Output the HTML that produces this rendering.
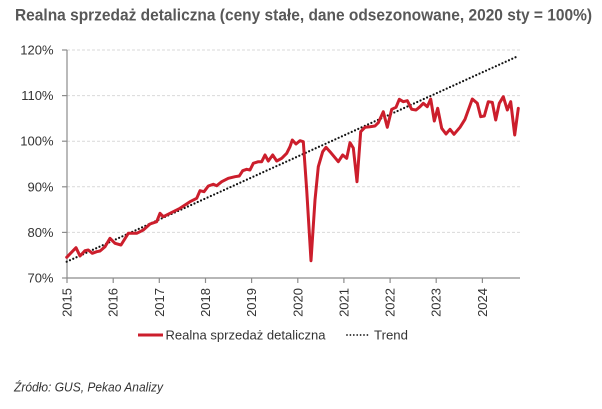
<!DOCTYPE html>
<html>
<head>
<meta charset="utf-8">
<style>
  html, body { margin: 0; padding: 0; background: #ffffff; }
  svg { display: block; }
  text { font-family: "Liberation Sans", "DejaVu Sans", sans-serif; }
</style>
</head>
<body>
<svg width="602" height="409" viewBox="0 0 602 409" xmlns="http://www.w3.org/2000/svg">
  <rect width="602" height="409" fill="#ffffff"/>
  <!-- Title -->
  <text x="15" y="20.5" font-size="16.5" font-weight="bold" fill="#585858" textLength="577" lengthAdjust="spacingAndGlyphs">Realna sprzedaż detaliczna (ceny stałe, dane odsezonowane, 2020 sty = 100%)</text>

  <!-- Gridlines -->
  <g stroke="#d9d9d9" stroke-width="1" stroke-dasharray="3 2">
    <line x1="67" y1="50" x2="520" y2="50"/>
    <line x1="67" y1="95.6" x2="520" y2="95.6"/>
    <line x1="67" y1="141.2" x2="520" y2="141.2"/>
    <line x1="67" y1="186.8" x2="520" y2="186.8"/>
    <line x1="67" y1="232.4" x2="520" y2="232.4"/>
  </g>

  <!-- Axes -->
  <g stroke="#8c8c8c" stroke-width="1.2">
    <line x1="67" y1="50" x2="67" y2="278"/>
    <line x1="67" y1="278" x2="520" y2="278"/>
    <line x1="62" y1="50" x2="67" y2="50"/>
    <line x1="62" y1="95.6" x2="67" y2="95.6"/>
    <line x1="62" y1="141.2" x2="67" y2="141.2"/>
    <line x1="62" y1="186.8" x2="67" y2="186.8"/>
    <line x1="62" y1="232.4" x2="67" y2="232.4"/>
    <line x1="62" y1="278" x2="67" y2="278"/>
    <line x1="67" y1="278" x2="67" y2="283"/>
    <line x1="113.2" y1="278" x2="113.2" y2="283"/>
    <line x1="159.3" y1="278" x2="159.3" y2="283"/>
    <line x1="205.5" y1="278" x2="205.5" y2="283"/>
    <line x1="251.6" y1="278" x2="251.6" y2="283"/>
    <line x1="297.8" y1="278" x2="297.8" y2="283"/>
    <line x1="343.9" y1="278" x2="343.9" y2="283"/>
    <line x1="390.1" y1="278" x2="390.1" y2="283"/>
    <line x1="436.2" y1="278" x2="436.2" y2="283"/>
    <line x1="482.4" y1="278" x2="482.4" y2="283"/>
  </g>

  <!-- Y labels -->
  <g font-size="13" fill="#333333" text-anchor="end" dominant-baseline="central">
    <text x="53.5" y="50">120%</text>
    <text x="53.5" y="95.6">110%</text>
    <text x="53.5" y="141.2">100%</text>
    <text x="53.5" y="186.8">90%</text>
    <text x="53.5" y="232.4">80%</text>
    <text x="53.5" y="278">70%</text>
  </g>

  <!-- X labels -->
  <g font-size="13" fill="#333333" text-anchor="end" dominant-baseline="central">
    <text transform="translate(67,288) rotate(-90)">2015</text>
    <text transform="translate(113.2,288) rotate(-90)">2016</text>
    <text transform="translate(159.3,288) rotate(-90)">2017</text>
    <text transform="translate(205.5,288) rotate(-90)">2018</text>
    <text transform="translate(251.6,288) rotate(-90)">2019</text>
    <text transform="translate(297.8,288) rotate(-90)">2020</text>
    <text transform="translate(343.9,288) rotate(-90)">2021</text>
    <text transform="translate(390.1,288) rotate(-90)">2022</text>
    <text transform="translate(436.2,288) rotate(-90)">2023</text>
    <text transform="translate(482.4,288) rotate(-90)">2024</text>
  </g>

  <!-- Trend -->
  <line x1="66.7" y1="261.7" x2="516.7" y2="56.7" stroke="#111111" stroke-width="2.2" stroke-linecap="round" stroke-dasharray="0 3.6"/>

  <!-- Series -->
  <polyline fill="none" stroke="#cc1e2c" stroke-width="3" stroke-linejoin="round" stroke-linecap="round" points="
66.7,257.3 76,247.7 80,256 85,250.7 88.3,250 92.3,253.3 96.7,251.7 100,251 105,246.7 110,238.3 115,243.3 121,245 128.3,233.3 136.7,233.3 143.3,230 150,224 156.7,221.7 160,213.3 163.3,216.7 170,213.3 180,208.3 190,201.7 196.7,198.3 200,190.7 204,191.7 208.3,186 213.3,184.3 216.7,185.7 221.7,181.7 228.3,178.3 235,176.7 239.3,176 242.7,170.7 246.7,169.3 250,170 253.3,163.3 258.3,161.7 261.7,161.7 265,155 268.3,161 272.7,155 276.7,161 281.7,158.3 286.7,153.3 290,146.7 292.3,140 296,144 300,140.7 303.3,141.7 306.7,190 311,260.7 315,200 318.3,166.7 322.7,151.7 326,147.3 330,151.7 335,157.7 338.3,161.7 342.7,155 346.7,158.3 350,142.7 353.3,148 357,181.7 360.7,131.7 365,127.3 370,126.7 375,126 378.3,122.7 383.3,111.7 387.3,127.3 391.7,109.3 396,107.3 399.3,99.3 403.3,101.7 407.3,100.7 411.7,109.3 416,110 420,106.7 423.3,103.3 427.3,106.7 430.7,99 434.3,121 437.7,108.3 441.7,128.3 446,134 450,129.3 454,134.3 460,127.3 465,119.3 472.3,99 477.3,103.3 480.7,116.7 484.3,116 488.3,101.7 492.3,102.3 495.7,120 499.3,103.3 503.3,96.7 507.3,110 510.7,101.7 514.7,135 518.3,108.3"/>

  <!-- Legend -->
  <line x1="138" y1="335" x2="163" y2="335" stroke="#cc1e2c" stroke-width="3"/>
  <text x="165.5" y="335" font-size="13" fill="#333333" dominant-baseline="central" textLength="160" lengthAdjust="spacingAndGlyphs">Realna sprzedaż detaliczna</text>
  <line x1="347" y1="335" x2="368" y2="335" stroke="#111111" stroke-width="1.8" stroke-linecap="round" stroke-dasharray="0 3.4"/>
  <text x="374" y="335" font-size="13" fill="#333333" dominant-baseline="central" textLength="34" lengthAdjust="spacingAndGlyphs">Trend</text>

  <!-- Source -->
  <text x="14" y="391.5" font-size="12.5" font-style="italic" fill="#333333" textLength="149" lengthAdjust="spacingAndGlyphs">Źródło: GUS, Pekao Analizy</text>
</svg>
</body>
</html>
